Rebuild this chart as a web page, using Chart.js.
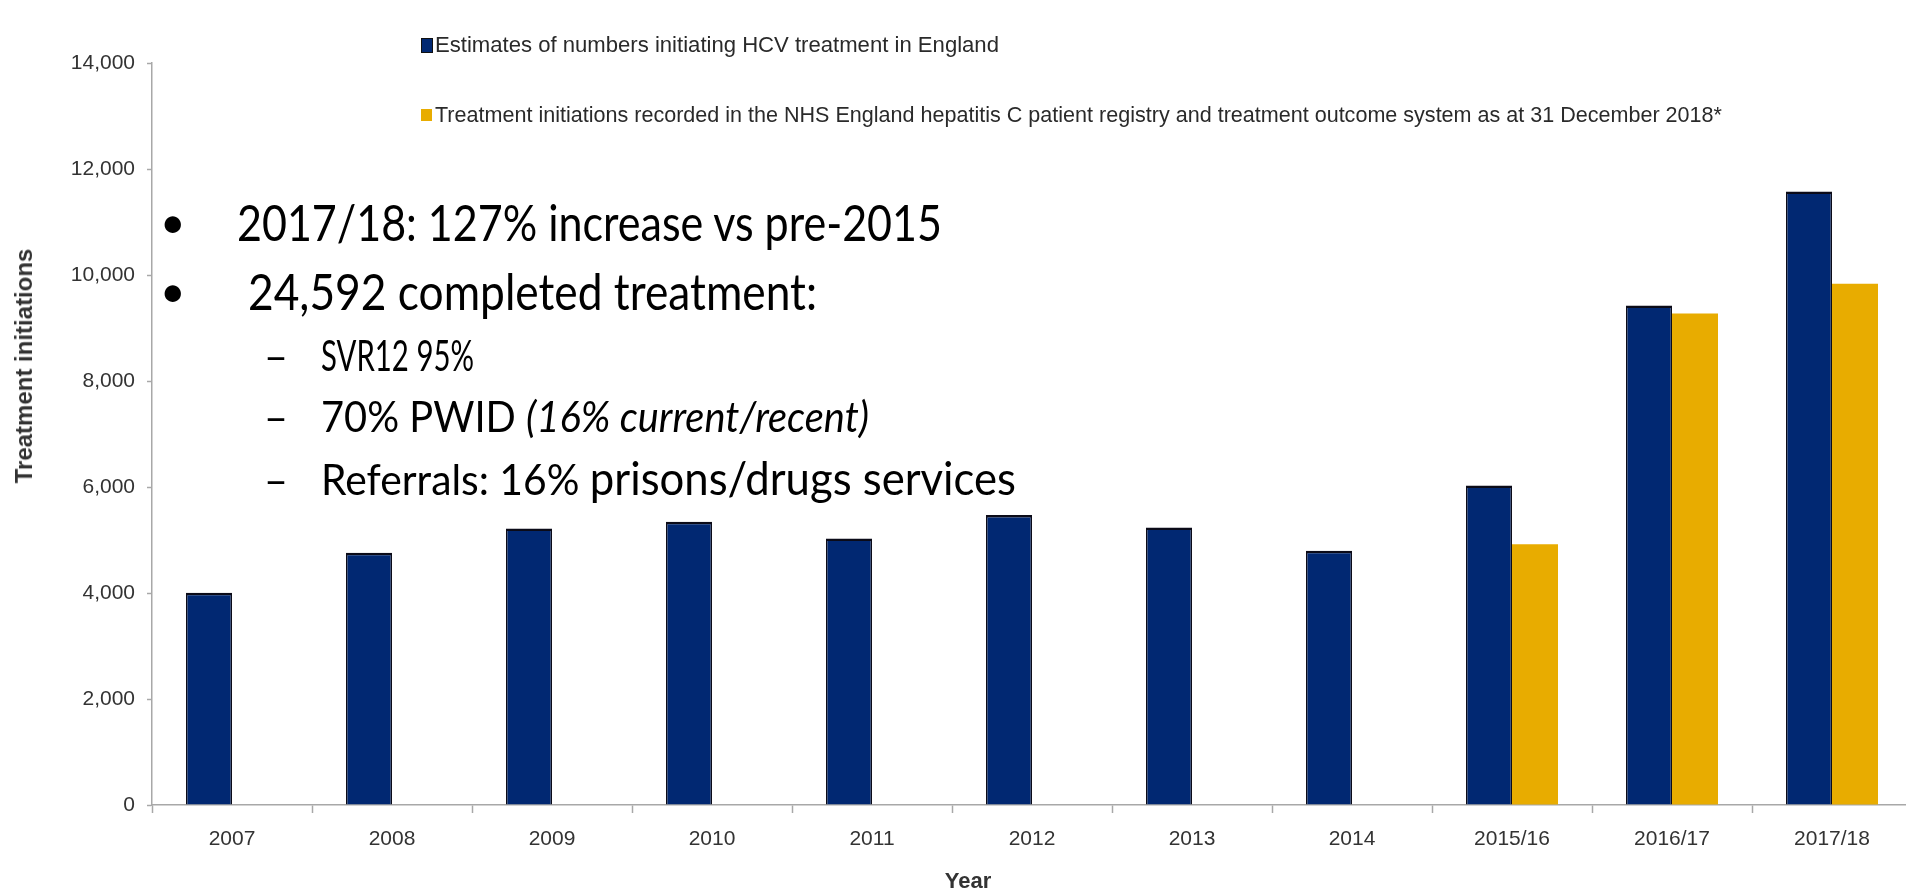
<!DOCTYPE html>
<html>
<head>
<meta charset="utf-8">
<script src="https://cdn.jsdelivr.net/npm/chart.js@4.4.1/dist/chart.umd.min.js"></script>
<style>
  html, body { margin: 0; padding: 0; background: #fff; overflow: hidden; }
  #wrap { position: relative; width: 1912px; height: 894px; }
  #c { position: absolute; left: 0; top: 0; }
  .t { position: absolute; white-space: nowrap; line-height: 1; display: inline-block; transform-origin: 0 50%; }
  .slide { font-family: Lato, "Open Sans", sans-serif; color: #000; }
  .ax { font-family: "Liberation Sans", Arial, sans-serif; color: #333; }
  .lg-box { position: absolute; box-sizing: border-box; }
</style>
</head>
<body>
<div id="wrap">
  <canvas id="c" width="1912" height="894" style="width:1912px;height:894px"></canvas>
  <div id="legend"></div>
  <div id="ytitle" class="t ax" style="font-weight:bold;font-size:24px;left:23.5px;top:366px;transform-origin:0 0;transform:rotate(-90deg) translate(-50%,-50%);">Treatment initiations</div>
  <div id="xtitle" class="t ax" style="font-weight:bold;font-size:22px;left:968px;top:881px;transform:translate(-50%,-50%);">Year</div>

  <div class="t slide" style="font-size:44px;left:160px;top:221px;transform:translateY(-50%)">•</div>
  <div class="t slide fit" data-w="705" style="font-size:51px;left:237px;top:221px;">2017/18: 127% increase vs pre-2015</div>
  <div class="t slide" style="font-size:44px;left:160px;top:290px;transform:translateY(-50%)">•</div>
  <div class="t slide fit" data-w="569" style="font-size:51px;left:248px;top:290px;"> 24,592 completed treatment:</div>

  <div class="t slide fit" data-w="24" style="font-size:43px;left:264px;top:354px;">–</div>
  <div class="t slide fit" data-w="153" style="font-size:43px;left:321px;top:354px;">SVR12 95%</div>
  <div class="t slide fit" data-w="24" style="font-size:43px;left:264px;top:415px;">–</div>
  <div class="t slide fit" data-w="548" style="font-size:43px;left:321px;top:415px;">70% PWID <i>(16% current/recent)</i></div>
  <div class="t slide fit" data-w="24" style="font-size:43px;left:264px;top:478px;">–</div>
  <div class="t slide fit" data-w="695" style="font-size:43px;left:321px;top:478px;">Referrals: 16% <span style="font-size:46px">prisons/drugs services</span></div>
</div>
<script>
// ---- data ----
const categories = ['2007', '2008', '2009', '2010', '2011', '2012', '2013', '2014', '2015/16', '2016/17', '2017/18'];
const estimates  = [4005, 4760, 5215, 5345, 5030, 5470, 5235, 4795, 6030, 9425, 11575];
const registry   = [null, null, null, null, null, null, null, null, 4920, 9275, 9836];
const legendLabels = [
  'Estimates of numbers initiating HCV treatment in England',
  'Treatment initiations recorded in the NHS England hepatitis C patient registry and treatment outcome system as at 31 December 2018*'
];
const yMin = 0, yMax = 14000, yStep = 2000;

const navy = '#012872';
const gold = '#E8AC00';
const axisGray = '#a8a8a8';
const tickFont = { family: 'Liberation Sans, Arial, sans-serif', size: 21 };

const chart = new Chart(document.getElementById('c'), {
  type: 'bar',
  data: {
    labels: categories,
    datasets: [
      { label: legendLabels[0], data: estimates, backgroundColor: navy, borderColor: '#0b0b18',
        borderWidth: { top: 2.5, left: 1.5, right: 1.5, bottom: 0 }, borderSkipped: false },
      { label: legendLabels[1], data: registry, backgroundColor: gold, borderWidth: 0 }
    ]
  },
  options: {
    responsive: false,
    animation: false,
    devicePixelRatio: 1,
    layout: { padding: { left: 0, right: 0, top: 63, bottom: 0 } },
    plugins: { legend: { display: false }, tooltip: { enabled: false }, title: { display: false } },
    datasets: { bar: { categoryPercentage: 0.575, barPercentage: 1.0 } },
    scales: {
      x: {
        offset: true,
        grid: { display: true, drawOnChartArea: false, drawTicks: true, tickLength: 8, tickWidth: 1.5, tickColor: axisGray, offset: true },
        border: { display: true, color: axisGray, width: 1.5 },
        ticks: { font: tickFont, color: '#333', padding: 14, maxRotation: 0, autoSkip: false },
        afterFit: s => { s.height = 89; }
      },
      y: {
        min: yMin, max: yMax,
        grid: { display: true, drawOnChartArea: false, drawTicks: true, tickLength: 5, tickWidth: 1.5, tickColor: axisGray },
        border: { display: true, color: axisGray, width: 1.5 },
        ticks: { stepSize: yStep, font: tickFont, color: '#333', padding: 12,
          callback: v => Number(v).toLocaleString('en-US') },
        afterFit: s => { s.width = 152; }
      }
    }
  }
});

// ---- HTML legend built from the chart's datasets ----
(function buildLegend() {
  const lg = document.getElementById('legend');
  const rows = [
    { cy: 45.3, box: { left: 421, top: 37.5, w: 11.5, h: 15.5, border: '1.5px solid #111' }, w: 564 },
    { cy: 114.5, box: { left: 421, top: 108.5, w: 11, h: 12.5, border: 'none' }, w: 1287 }
  ];
  chart.data.datasets.forEach((ds, i) => {
    const r = rows[i];
    const b = document.createElement('div');
    b.className = 'lg-box';
    Object.assign(b.style, { left: r.box.left + 'px', top: r.box.top + 'px', width: r.box.w + 'px', height: r.box.h + 'px',
      background: ds.backgroundColor, border: r.box.border });
    lg.appendChild(b);
    const t = document.createElement('div');
    t.className = 't ax fit';
    t.dataset.w = r.w;
    Object.assign(t.style, { left: '435px', top: r.cy + 'px', fontSize: '22px', color: '#2a2a2a' });
    t.textContent = ds.label;
    lg.appendChild(t);
  });
})();

function fitAll() {
  document.querySelectorAll('.fit').forEach(el => {
    el.style.transform = 'translateY(-50%)';
    const nat = el.getBoundingClientRect().width;
    const k = (+el.dataset.w) / nat;
    el.style.transform = 'translateY(-50%) scaleX(' + k.toFixed(4) + ')';
  });
}
fitAll();
if (document.fonts && document.fonts.ready) document.fonts.ready.then(fitAll);
</script>
</body>
</html>
